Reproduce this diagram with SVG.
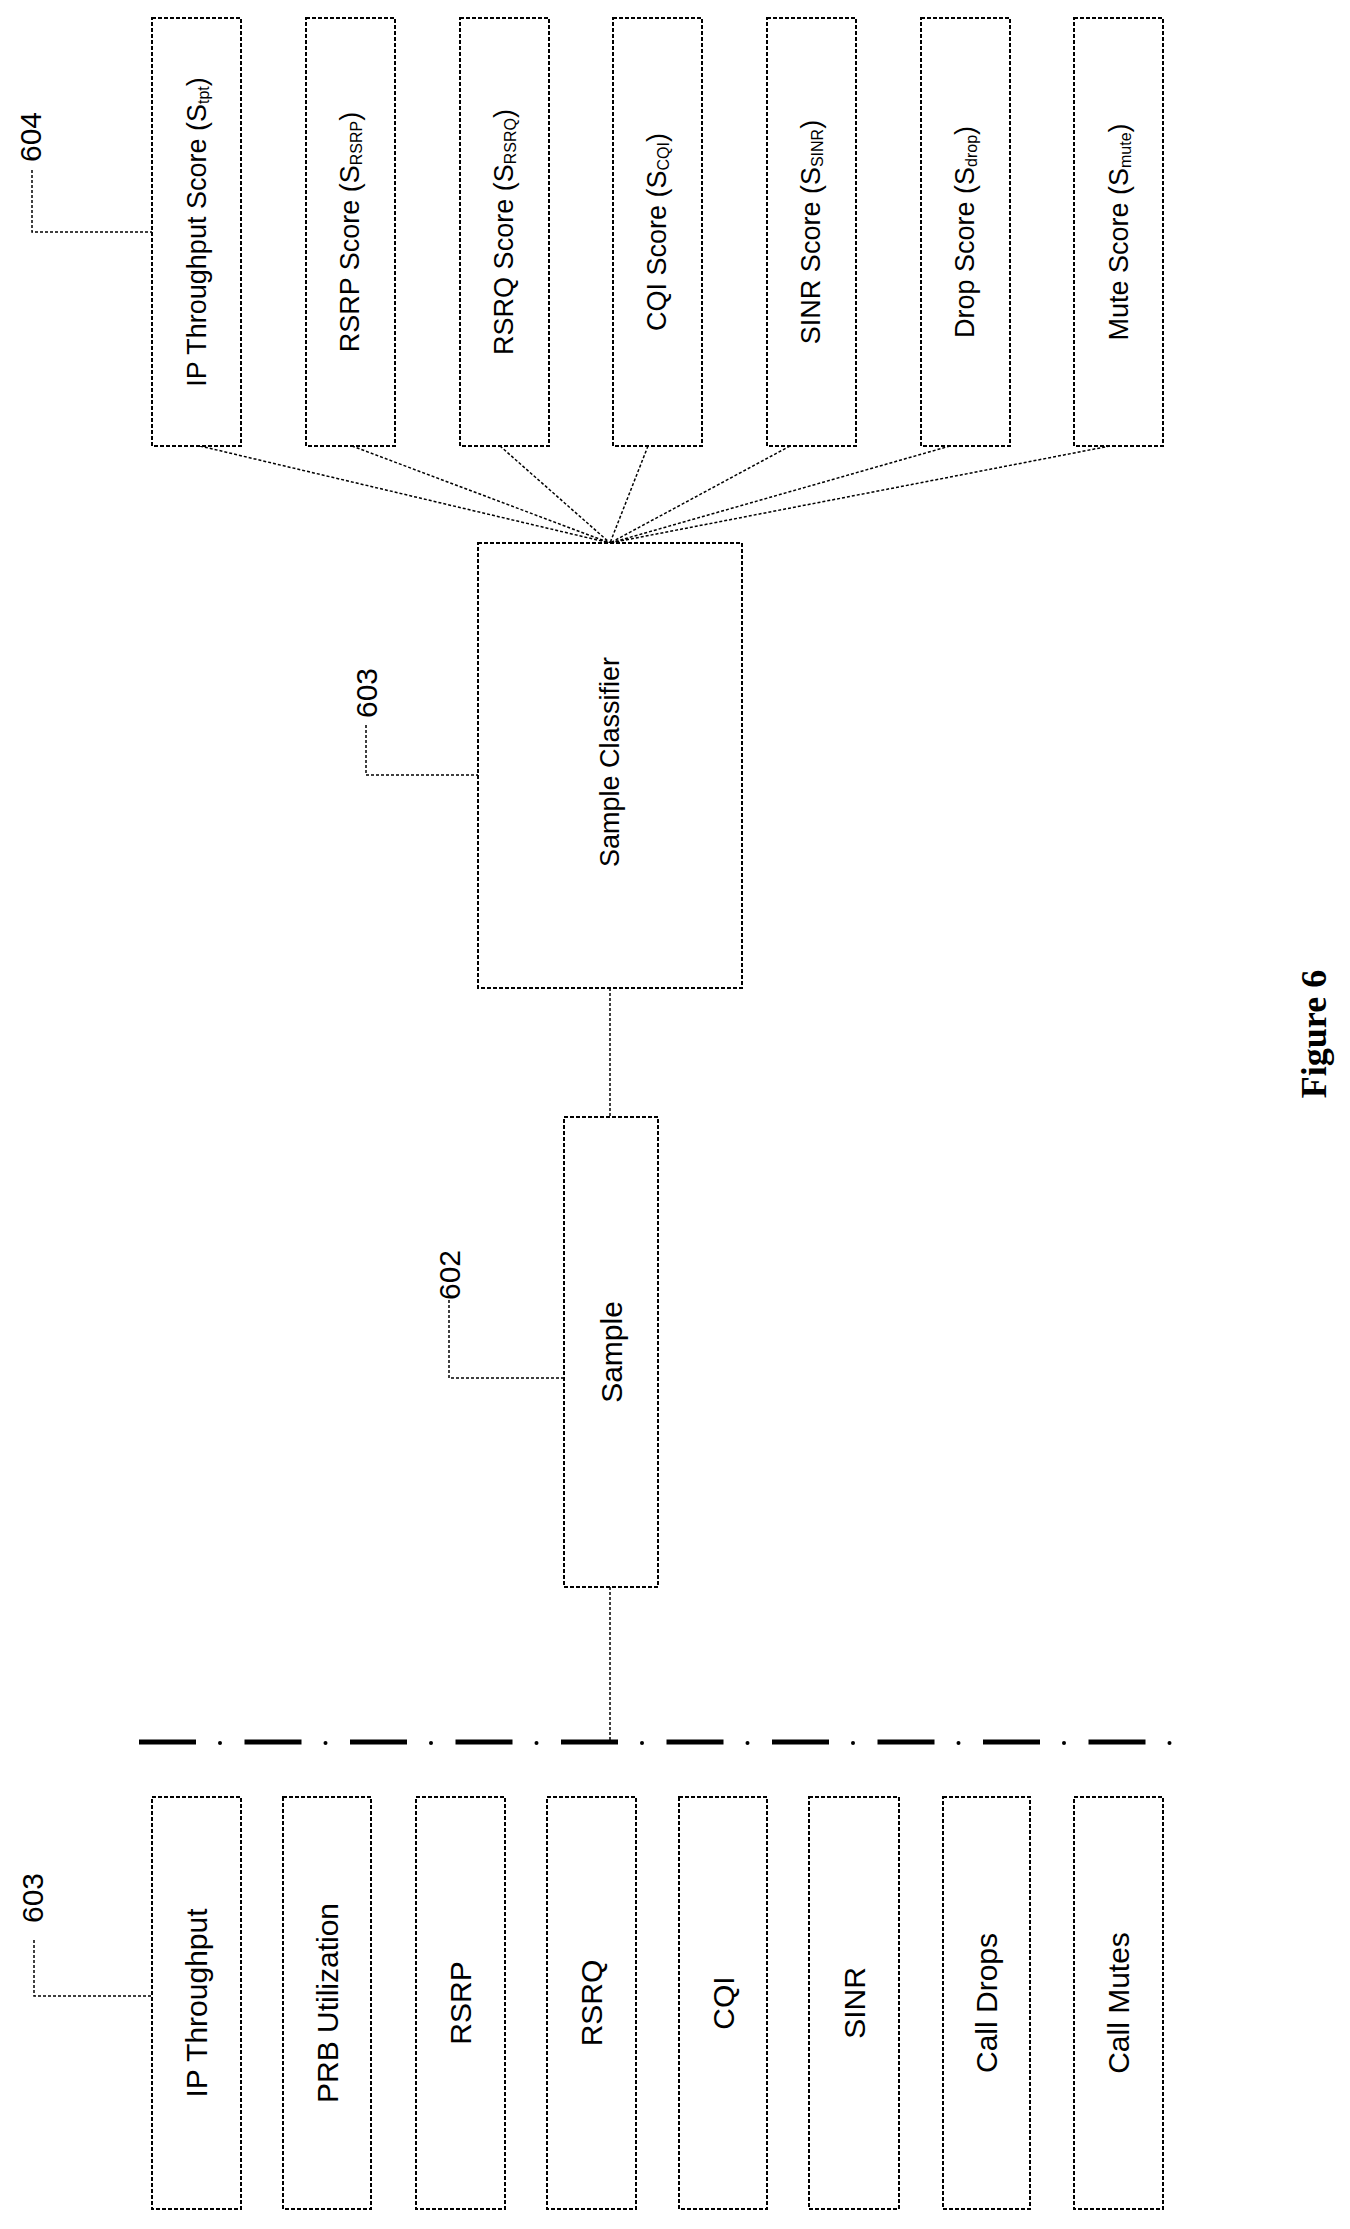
<svg xmlns="http://www.w3.org/2000/svg" width="1350" height="2229" viewBox="0 0 1350 2229">
<style>
.box{fill:#fff;stroke:#000;stroke-width:2;stroke-dasharray:4 2}
.ln{fill:none;stroke:#000;stroke-width:1.5;stroke-dasharray:3 2}
.t{font-family:"Liberation Sans",Arial,sans-serif;font-size:27px;fill:#000;text-anchor:middle;dominant-baseline:central}
.b{font-size:30px}
.n{font-size:30px}
.sub{font-size:16px}
.fig{font-family:"Liberation Serif","Times New Roman",serif;font-size:36px;font-weight:bold;text-anchor:middle;dominant-baseline:central}
</style>
<rect width="1350" height="2229" fill="#fff"/>
<g id="connectors">
<path class="ln" d="M200 446 L610 543 M352 446 L610 543 M500 446 L610 543 M648 446 L610 543 M790 446 L610 543 M950 446 L610 543 M1110 446 L610 543"/>
<path class="ln" d="M610 988 V1117 M610 1587 V1742"/>
<path class="ln" d="M32 170 V232 H152 M366 725 V775 H478 M449 1300 V1378 H564 M34 1940 V1996 H152"/>
<line x1="139" y1="1742" x2="1175" y2="1742" stroke="#000" stroke-width="5" stroke-dasharray="57 48.5"/>
<g fill="#000">
<circle cx="220" cy="1743" r="2"/><circle cx="325.5" cy="1743" r="2"/><circle cx="431" cy="1743" r="2"/><circle cx="536.5" cy="1743" r="2"/><circle cx="642" cy="1743" r="2"/><circle cx="747.5" cy="1743" r="2"/><circle cx="853" cy="1743" r="2"/><circle cx="958.5" cy="1743" r="2"/><circle cx="1064" cy="1743" r="2"/><circle cx="1169.5" cy="1743" r="2"/>
</g>
</g>
<g id="label604"><text class="t n" transform="translate(30,137) rotate(-90)">604</text></g>
<g id="label603a"><text class="t n" transform="translate(366,693) rotate(-90)">603</text></g>
<g id="label602"><text class="t n" transform="translate(449,1275) rotate(-90)">602</text></g>
<g id="label603b"><text class="t n" transform="translate(32,1898) rotate(-90)">603</text></g>
<g id="score-tpt"><rect class="box" x="152" y="18" width="89" height="428"/><text class="t" transform="translate(196.5,232) rotate(-90)">IP Throughput Score (S<tspan class="sub" dy="6">tpt</tspan><tspan dy="-6">)</tspan></text></g>
<g id="score-rsrp"><rect class="box" x="306" y="18" width="89" height="428"/><text class="t" transform="translate(350,232) rotate(-90)">RSRP Score (S<tspan class="sub" dy="6">RSRP</tspan><tspan dy="-6">)</tspan></text></g>
<g id="score-rsrq"><rect class="box" x="460" y="18" width="89" height="428"/><text class="t" transform="translate(504,232) rotate(-90)">RSRQ Score (S<tspan class="sub" dy="6">RSRQ</tspan><tspan dy="-6">)</tspan></text></g>
<g id="score-cqi"><rect class="box" x="613" y="18" width="89" height="428"/><text class="t" transform="translate(657,232) rotate(-90)">CQI Score (S<tspan class="sub" dy="6">CQI</tspan><tspan dy="-6">)</tspan></text></g>
<g id="score-sinr"><rect class="box" x="767" y="18" width="89" height="428"/><text class="t" transform="translate(811,232) rotate(-90)">SINR Score (S<tspan class="sub" dy="6">SINR</tspan><tspan dy="-6">)</tspan></text></g>
<g id="score-drop"><rect class="box" x="921" y="18" width="89" height="428"/><text class="t" transform="translate(965,232) rotate(-90)">Drop Score (S<tspan class="sub" dy="6">drop</tspan><tspan dy="-6">)</tspan></text></g>
<g id="score-mute"><rect class="box" x="1074" y="18" width="89" height="428"/><text class="t" transform="translate(1118.5,232) rotate(-90)">Mute Score (S<tspan class="sub" dy="6">mute</tspan><tspan dy="-6">)</tspan></text></g>
<g id="classifier"><rect class="box" x="478" y="543" width="264" height="445"/><text class="t" transform="translate(610,762) rotate(-90)">Sample Classifier</text></g>
<g id="sample"><rect class="box" x="564" y="1117" width="94" height="470"/><text class="t b" transform="translate(611,1352) rotate(-90)">Sample</text></g>
<g id="m-tpt"><rect class="box" x="152" y="1797" width="89" height="412"/><text class="t b" transform="translate(196.5,2003) rotate(-90)">IP Throughput</text></g>
<g id="m-prb"><rect class="box" x="283" y="1797" width="88" height="412"/><text class="t b" transform="translate(327,2003) rotate(-90)">PRB Utilization</text></g>
<g id="m-rsrp"><rect class="box" x="416" y="1797" width="89" height="412"/><text class="t b" transform="translate(460.5,2003) rotate(-90)">RSRP</text></g>
<g id="m-rsrq"><rect class="box" x="547" y="1797" width="89" height="412"/><text class="t b" transform="translate(591.5,2003) rotate(-90)">RSRQ</text></g>
<g id="m-cqi"><rect class="box" x="679" y="1797" width="88" height="412"/><text class="t b" transform="translate(723,2003) rotate(-90)">CQI</text></g>
<g id="m-sinr"><rect class="box" x="809" y="1797" width="90" height="412"/><text class="t b" transform="translate(854,2003) rotate(-90)">SINR</text></g>
<g id="m-drops"><rect class="box" x="943" y="1797" width="87" height="412"/><text class="t b" transform="translate(986.5,2003) rotate(-90)">Call Drops</text></g>
<g id="m-mutes"><rect class="box" x="1074" y="1797" width="89" height="412"/><text class="t b" transform="translate(1118.5,2003) rotate(-90)">Call Mutes</text></g>
<g id="caption"><text class="fig" transform="translate(1314,1034) rotate(-90)">Figure 6</text></g>
</svg>
